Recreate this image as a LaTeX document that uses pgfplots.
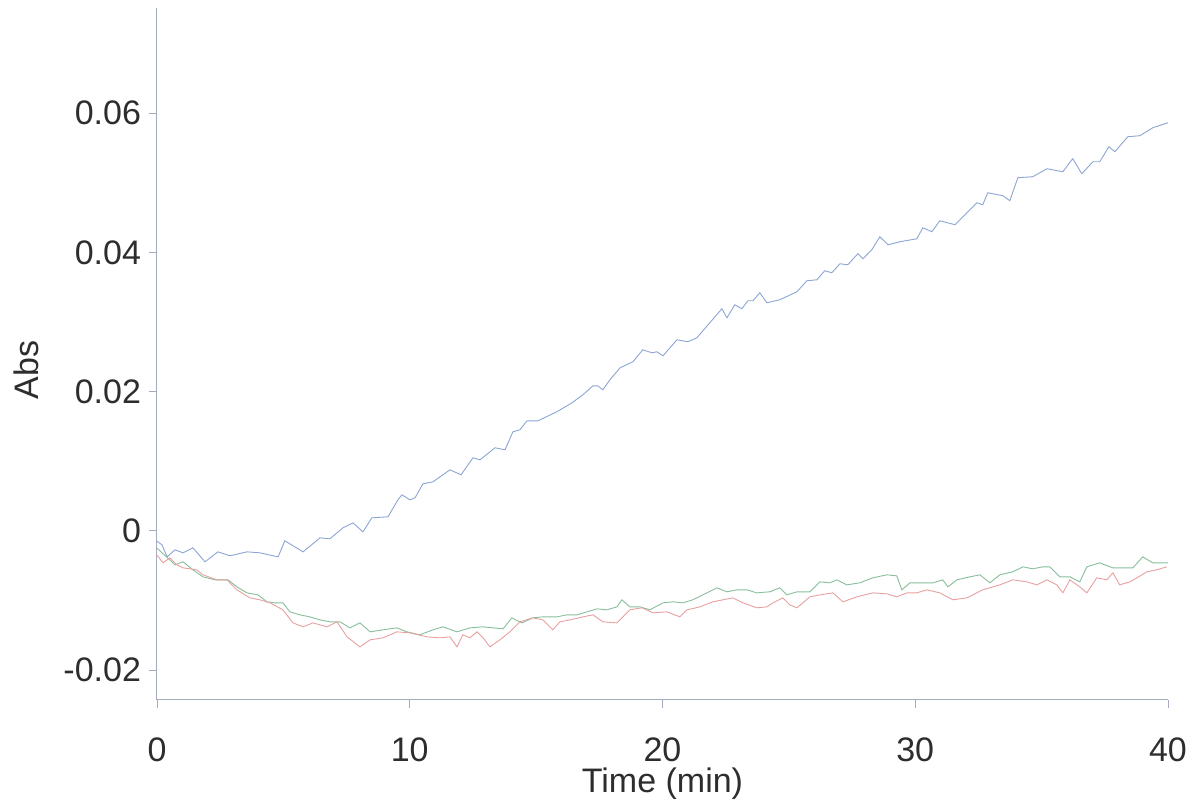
\documentclass[border=0pt]{standalone}
\usepackage{pgfplots}
\pgfplotsset{compat=1.18}
\usepackage{fontspec}
\setmainfont{Liberation Sans}
\definecolor{cblue}{RGB}{140,165,212}
\definecolor{cgreen}{RGB}{135,190,155}
\definecolor{cred}{RGB}{232,160,160}
\definecolor{caxis}{RGB}{165,172,190}
\definecolor{ctext}{RGB}{45,45,45}
\begin{document}
\begin{tikzpicture}
\path[use as bounding box] (-78.5pt,-50.5pt) rectangle (521.5pt,350pt);
\begin{axis}[
  scale only axis,
  width=505.5pt, height=346pt,
  xmin=0, xmax=40, ymin=-0.0243, ymax=0.0751,
  axis x line=bottom, axis y line=left,
  axis line style={draw=caxis, line width=0.5pt, -},
  xtick={0,10,20,30,40}, xticklabels={0,10,20,30,40},
  ytick={-0.02,0,0.02,0.04,0.06}, yticklabels={-0.02,0,0.02,0.04,0.06},
  scaled y ticks=false,
  tick align=outside,
  major tick length=4pt,
  tick style={draw=caxis, line width=0.4pt},
  ticklabel style={font=\fontsize{17}{19}\selectfont, text=ctext},
  xticklabel style={inner sep=0pt, yshift=-14.7pt},
  yticklabel style={xshift=-0.5pt},
  xlabel={Time (min)}, ylabel={Abs},
  label style={font=\fontsize{17}{19}\selectfont, text=ctext},
  xlabel style={at={(axis description cs:0.5,0)}, anchor=north, inner sep=0pt, yshift=-33.7pt},
  ylabel style={at={(axis description cs:0,0.477)}, anchor=south, yshift=55.5pt},
  clip=false,
]
\addplot[cblue, line width=0.45pt] table {
x y
0.00 -0.0015
0.20 -0.00201
0.40 -0.00374
0.71 -0.00273
1.03 -0.00316
1.42 -0.00244
1.90 -0.00445
2.41 -0.00302
2.89 -0.00359
3.56 -0.00302
4.07 -0.00316
4.79 -0.00374
5.06 -0.00144
5.78 -0.00302
6.45 -0.00101
6.84 -0.00115
7.36 0.00043
7.75 0.00115
8.15 -0.00014
8.50 0.00187
9.14 0.00201
9.53 0.00445
9.69 0.00517
10.01 0.00445
10.21 0.00474
10.52 0.00675
10.92 0.00704
11.59 0.00876
12.03 0.00805
12.50 0.01049
12.78 0.01020
13.37 0.01193
13.77 0.01164
14.08 0.01422
14.36 0.01451
14.64 0.01580
15.07 0.01580
15.82 0.01710
16.42 0.01839
16.85 0.01954
17.25 0.02083
17.44 0.02083
17.64 0.02026
17.92 0.02170
18.32 0.02342
18.83 0.02428
19.22 0.02601
19.58 0.02557
19.78 0.02572
20.02 0.02514
20.57 0.02744
21.00 0.02716
21.36 0.02773
22.35 0.03190
22.55 0.03060
22.86 0.03247
23.14 0.03190
23.38 0.03305
23.58 0.03305
23.85 0.03420
24.13 0.03276
24.64 0.03319
25.32 0.03434
25.71 0.03592
26.11 0.03606
26.42 0.03736
26.70 0.03707
27.02 0.03836
27.33 0.03822
27.73 0.03980
27.93 0.03908
28.28 0.04037
28.60 0.04224
28.92 0.04109
29.39 0.04152
30.06 0.04195
30.30 0.04353
30.66 0.04296
30.97 0.04454
31.57 0.04397
32.44 0.04713
32.67 0.04684
32.87 0.04856
33.47 0.04813
33.74 0.04741
34.06 0.05072
34.65 0.05086
35.21 0.05201
35.84 0.05158
36.23 0.05345
36.59 0.05129
37.03 0.05302
37.30 0.05302
37.66 0.05517
37.90 0.05445
38.41 0.05661
38.88 0.05675
39.40 0.05790
40.00 0.05862
};
\addplot[cgreen, line width=0.45pt] table {
x y
0.00 -0.0025
0.20 -0.00316
0.51 -0.00417
0.71 -0.00489
1.03 -0.00445
1.42 -0.00560
1.82 -0.00661
2.29 -0.00704
2.81 -0.00704
3.16 -0.00805
3.56 -0.00891
4.00 -0.00920
4.35 -0.01020
4.67 -0.01034
4.98 -0.01034
5.26 -0.01164
5.66 -0.01207
6.05 -0.01236
6.45 -0.01279
6.84 -0.01307
7.24 -0.01307
7.63 -0.01394
8.03 -0.01322
8.43 -0.01451
8.94 -0.01422
9.49 -0.01394
9.89 -0.01451
10.40 -0.01494
10.92 -0.01422
11.31 -0.01379
11.87 -0.01451
12.38 -0.01394
12.90 -0.01379
13.29 -0.01394
13.69 -0.01408
14.04 -0.01250
14.44 -0.01322
14.87 -0.01250
15.27 -0.01236
15.82 -0.01236
16.22 -0.01207
16.61 -0.01207
17.01 -0.01164
17.41 -0.01121
17.80 -0.01135
18.20 -0.01092
18.39 -0.00991
18.71 -0.01092
19.11 -0.01092
19.50 -0.01135
20.02 -0.01034
20.41 -0.01020
20.81 -0.01034
21.20 -0.00991
21.76 -0.00891
22.15 -0.00819
22.55 -0.00876
22.94 -0.00848
23.34 -0.00848
23.73 -0.00891
24.25 -0.00876
24.64 -0.00819
24.92 -0.00920
25.32 -0.00876
25.83 -0.00876
26.23 -0.00733
26.62 -0.00747
26.90 -0.00704
27.29 -0.00776
27.81 -0.00747
28.32 -0.00675
28.88 -0.00632
29.27 -0.00647
29.47 -0.00848
29.79 -0.00747
30.30 -0.00747
30.70 -0.00747
31.09 -0.00704
31.29 -0.00805
31.65 -0.00704
32.16 -0.00661
32.56 -0.00632
32.95 -0.00747
33.35 -0.00632
33.86 -0.00589
34.26 -0.00517
34.65 -0.00546
35.05 -0.00517
35.32 -0.00517
35.72 -0.00661
36.12 -0.00661
36.51 -0.00733
36.79 -0.00517
37.30 -0.00460
37.82 -0.00532
38.37 -0.00532
38.61 -0.00532
39.00 -0.00374
39.40 -0.00460
39.68 -0.00460
40.00 -0.00460
};
\addplot[cred, line width=0.45pt] table {
x y
0.00 -0.0035
0.24 -0.00460
0.51 -0.00388
0.79 -0.00489
1.03 -0.00532
1.58 -0.00560
1.82 -0.00632
2.37 -0.00704
2.77 -0.00704
3.16 -0.00848
3.68 -0.00963
4.07 -0.00991
4.47 -0.01034
4.98 -0.01135
5.38 -0.01322
5.78 -0.01379
6.17 -0.01322
6.72 -0.01379
7.12 -0.01307
7.52 -0.01523
8.03 -0.01667
8.43 -0.01566
8.94 -0.01537
9.49 -0.01451
10.01 -0.01466
10.68 -0.01523
11.19 -0.01537
11.59 -0.01523
11.87 -0.01667
12.10 -0.01494
12.38 -0.01537
12.66 -0.01451
12.90 -0.01537
13.17 -0.01667
13.57 -0.01566
13.96 -0.01451
14.36 -0.01307
14.87 -0.01250
15.27 -0.01279
15.66 -0.01422
15.94 -0.01307
16.34 -0.01279
16.85 -0.01236
17.25 -0.01207
17.64 -0.01307
18.20 -0.01322
18.71 -0.01135
19.19 -0.01106
19.62 -0.01178
20.17 -0.01164
20.69 -0.01236
20.97 -0.01135
21.48 -0.01092
21.99 -0.01020
22.39 -0.00991
22.78 -0.00963
23.18 -0.01034
23.73 -0.01106
24.13 -0.01092
24.37 -0.01034
24.76 -0.00963
25.04 -0.01063
25.32 -0.01106
25.83 -0.00948
26.23 -0.00920
26.74 -0.00891
27.14 -0.01020
27.69 -0.00948
28.32 -0.00891
28.88 -0.00905
29.27 -0.00948
29.67 -0.00891
30.06 -0.00891
30.46 -0.00848
30.97 -0.00891
31.49 -0.00991
32.04 -0.00963
32.67 -0.00848
33.35 -0.00776
33.86 -0.00704
34.41 -0.00733
34.81 -0.00776
35.21 -0.00704
35.60 -0.00776
35.84 -0.00891
36.12 -0.00704
36.51 -0.00805
36.79 -0.00891
37.18 -0.00675
37.58 -0.00704
37.82 -0.00603
38.09 -0.00776
38.49 -0.00733
38.77 -0.00675
39.16 -0.00589
39.56 -0.00560
39.95 -0.00517
};
\end{axis}
\end{tikzpicture}
\end{document}
